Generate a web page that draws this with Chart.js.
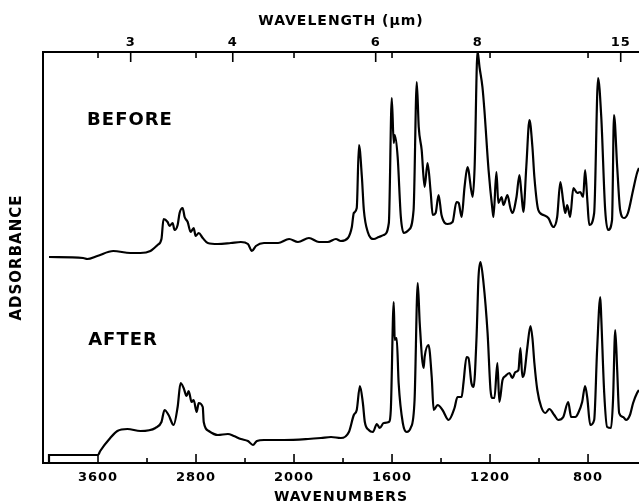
<!DOCTYPE html>
<html>
<head>
<meta charset="utf-8">
<script src="https://cdn.jsdelivr.net/npm/chart.js@4"></script>
<style>
  html, body { margin: 0; padding: 0; background: #fff; }
  canvas { display: block; }
</style>
</head>
<body>
<canvas id="spectrum" width="639" height="504"></canvas>
<script>
// Data
const majorWavenumbers = [3600, 2800, 2000, 1600, 1200, 800];
const minorWavenumbers = [3200, 2400, 1800, 1400, 1000];
const wavelengthTicks = [3, 4, 6, 8, 15]; // micrometres

const beforeWn = [4000, 3721, 3688, 3606, 3475, 3336, 3254, 3172, 3114, 3082,
  3065, 3032, 3016, 2991, 2975, 2950, 2934, 2909, 2893, 2868,
  2844, 2819, 2803, 2778, 2745, 2704, 2622, 2516, 2434, 2376,
  2344, 2311, 2245, 2130, 2040, 1984, 1939, 1898, 1862, 1829,
  1809, 1780, 1764, 1756, 1744, 1735, 1723, 1715, 1699, 1674,
  1654, 1634, 1613, 1601, 1593, 1589, 1577, 1564, 1552, 1532,
  1512, 1499, 1491, 1479, 1467, 1455, 1442, 1434, 1422, 1410,
  1398, 1373, 1353, 1337, 1328, 1316, 1304, 1292, 1288, 1271,
  1263, 1251, 1243, 1231, 1223, 1206, 1190, 1186, 1174, 1166,
  1153, 1145, 1129, 1117, 1109, 1092, 1080, 1072, 1064, 1052,
  1039, 1027, 1019, 1003, 982, 962, 942, 926, 913, 901,
  893, 885, 873, 860, 844, 832, 820, 812, 803, 795,
  775, 759, 746, 730, 718, 702, 694, 681, 669, 653,
  637, 616, 600, 592];
const beforeAbs = [20.6, 20.5, 20.4, 20.7, 21.2, 21.0, 21.0, 21.2, 21.8, 22.4,
  24.4, 24.1, 23.7, 24.0, 23.3, 23.8, 25.0, 25.5, 24.6, 24.1,
  23.1, 23.5, 22.7, 23.0, 22.5, 22.0, 21.9, 22.0, 22.1, 21.9,
  21.2, 21.7, 22.0, 22.0, 22.4, 22.1, 22.5, 22.1, 22.1, 22.4,
  22.2, 22.5, 23.6, 25.0, 25.5, 31.8, 28.6, 25.3, 23.1, 22.4,
  22.6, 22.8, 24.0, 36.5, 32.0, 32.8, 30.6, 24.6, 23.0, 23.3,
  25.3, 38.1, 33.6, 31.3, 27.6, 30.0, 27.0, 24.8, 25.0, 26.8,
  24.8, 23.9, 24.1, 26.1, 26.0, 24.6, 27.6, 29.6, 29.3, 26.6,
  29.5, 41.2, 39.6, 37.6, 35.3, 29.3, 25.3, 24.6, 29.1, 26.0,
  26.6, 25.8, 26.8, 25.5, 25.0, 26.6, 28.8, 27.0, 25.1, 29.6,
  34.3, 31.6, 28.6, 25.3, 24.8, 24.5, 23.6, 24.6, 28.1, 26.1,
  25.0, 25.8, 24.6, 27.5, 27.0, 27.1, 26.6, 29.3, 26.3, 23.8,
  25.0, 38.5, 34.6, 25.3, 23.3, 24.3, 34.8, 29.6, 25.3, 24.5,
  25.0, 27.3, 29.0, 29.5];

const afterWn = [4000, 4000, 3600, 3582, 3500, 3442, 3360, 3254, 3131, 3082,
  3057, 3024, 2983, 2950, 2926, 2901, 2877, 2860, 2836, 2819,
  2795, 2778, 2745, 2737, 2696, 2622, 2540, 2491, 2434, 2376,
  2335, 2303, 2245, 2081, 1943, 1890, 1849, 1809, 1776, 1756,
  1744, 1731, 1719, 1711, 1695, 1678, 1662, 1650, 1634, 1613,
  1605, 1593, 1589, 1581, 1573, 1556, 1540, 1524, 1508, 1495,
  1487, 1471, 1467, 1451, 1438, 1430, 1414, 1394, 1369, 1345,
  1333, 1316, 1308, 1296, 1288, 1276, 1267, 1255, 1247, 1239,
  1227, 1210, 1198, 1190, 1182, 1170, 1162, 1149, 1137, 1121,
  1109, 1096, 1084, 1076, 1068, 1060, 1048, 1035, 1027, 1019,
  1007, 991, 974, 958, 938, 922, 901, 881, 869, 852,
  840, 824, 812, 803, 791, 775, 763, 750, 746, 734,
  722, 706, 698, 689, 681, 673, 657, 645, 629, 616,
  600, 592];
const afterAbs = [0, 0.8, 0.8, 1.2, 2.5, 3.2, 3.4, 3.2, 3.5, 4.1,
  5.3, 4.8, 3.8, 5.6, 8.0, 7.5, 6.7, 7.2, 6.1, 6.3,
  5.1, 6.0, 5.6, 4.1, 3.2, 2.8, 2.9, 2.7, 2.4, 2.2,
  1.8, 2.2, 2.3, 2.3, 2.4, 2.5, 2.6, 2.5, 3.1, 4.8,
  5.3, 7.7, 6.0, 4.1, 3.3, 3.1, 3.9, 3.5, 4.0, 4.1,
  5.3, 16.1, 12.3, 12.5, 8.0, 4.0, 3.1, 3.5, 6.3, 18.0,
  14.0, 9.5, 10.6, 11.8, 8.6, 5.3, 5.8, 5.3, 4.3, 5.5,
  6.6, 6.6, 8.1, 10.6, 10.5, 8.0, 7.6, 12.6, 18.6, 20.1,
  18.1, 13.0, 7.3, 6.5, 6.5, 10.0, 6.1, 8.3, 8.7, 9.0,
  8.5, 9.1, 9.3, 11.5, 8.6, 9.0, 11.5, 13.7, 12.5, 10.0,
  7.3, 5.6, 5.0, 5.4, 4.8, 4.3, 4.6, 6.1, 4.6, 4.6,
  5.0, 6.1, 7.7, 6.5, 3.8, 4.3, 11.3, 16.6, 14.5, 7.0,
  3.6, 3.5, 6.3, 13.3, 9.3, 5.0, 4.6, 4.3, 4.8, 6.0,
  7.0, 7.3];

const WN_LEFT = 4049;
const WN_RIGHT = 592;
const FONT = '"DejaVu Sans", sans-serif';

// the spectrometer chart doubles its scale below 2000 cm-1
const toU = (wn) => (wn >= 2000 ? (4000 - wn) / 2 : 1000 + (2000 - wn));
const fromU = (u) => (u <= 1000 ? 4000 - 2 * u : 2000 - (u - 1000));

class WavenumberScale extends Chart.LinearScale {
  getPixelForValue(value) {
    const u0 = toU(WN_LEFT), u1 = toU(WN_RIGHT);
    return this.getPixelForDecimal((toU(value) - u0) / (u1 - u0));
  }
  getValueForPixel(pixel) {
    const u0 = toU(WN_LEFT), u1 = toU(WN_RIGHT);
    return fromU(u0 + this.getDecimalForPixel(pixel) * (u1 - u0));
  }
}
WavenumberScale.id = "wavenumber";
WavenumberScale.defaults = {};
Chart.register(WavenumberScale);

const spacing = {
  id: "spacing",
  beforeDraw(chart) {
    chart.ctx.letterSpacing = "1px";
  },
};

// inward tick marks and the two trace labels
const frameMarks = {
  id: "frameMarks",
  afterDraw(chart) {
    const { ctx, chartArea: a, scales } = chart;
    ctx.save();
    ctx.strokeStyle = "#000";
    ctx.lineWidth = 1.6;
    const mark = (x, y0, len) => {
      ctx.beginPath();
      ctx.moveTo(x, y0);
      ctx.lineTo(x, y0 + len);
      ctx.stroke();
    };
    majorWavenumbers.forEach((v) => mark(scales.x.getPixelForValue(v), a.bottom, -9));
    minorWavenumbers.forEach((v) => mark(scales.x.getPixelForValue(v), a.bottom, -5));
    wavelengthTicks.forEach((l) => mark(scales.x2.getPixelForValue(10000 / l), a.top, 10));
    majorWavenumbers.forEach((v) => mark(scales.x2.getPixelForValue(v), a.top, 6));

    ctx.fillStyle = "#000";
    ctx.font = "bold 18px " + FONT;
    ctx.letterSpacing = "1px";
    ctx.textAlign = "center";
    ctx.textBaseline = "middle";
    ctx.fillText("BEFORE", a.left + 87, 120);
    ctx.fillText("AFTER", a.left + 80, 340);
    ctx.restore();
  },
};

const axisTitle = (text, size, padding) => ({
  display: true,
  text,
  color: "#000",
  font: { family: FONT, size, weight: "bold", lineHeight: 1 },
  padding,
});

const trace = (label, wn, abs) => ({
  label,
  data: wn.map((w, i) => ({ x: w, y: abs[i] })),
  borderColor: "#000",
  borderWidth: 2.2,
  pointRadius: 0,
  cubicInterpolationMode: "monotone",
  fill: false,
});

new Chart(document.getElementById("spectrum"), {
  type: "line",
  data: {
    datasets: [
      trace("Before", beforeWn, beforeAbs),
      trace("After", afterWn, afterAbs),
    ],
  },
  options: {
    responsive: false,
    animation: false,
    layout: { padding: 0 },
    plugins: { legend: { display: false }, tooltip: { enabled: false } },
    scales: {
      x: {
        type: "wavenumber",
        position: "bottom",
        min: WN_RIGHT,
        max: WN_LEFT,
        afterBuildTicks: (s) => { s.ticks = majorWavenumbers.map((v) => ({ value: v })); },
        afterFit: (s) => { s.height = 41; },
        ticks: {
          autoSkip: false,
          maxRotation: 0,
          padding: 7,
          color: "#000",
          font: { family: FONT, size: 13, weight: "bold" },
          callback: (v) => String(v),
        },
        grid: { display: false, drawTicks: false },
        border: { display: true, color: "#000", width: 2 },
        title: axisTitle("WAVENUMBERS", 14, { top: 0, bottom: 0 }),
      },
      x2: {
        type: "wavenumber",
        position: "top",
        min: WN_RIGHT,
        max: WN_LEFT,
        afterBuildTicks: (s) => { s.ticks = wavelengthTicks.map((l) => ({ value: 10000 / l })); },
        afterFit: (s) => { s.height = 52; },
        ticks: {
          autoSkip: false,
          maxRotation: 0,
          padding: 2,
          color: "#000",
          font: { family: FONT, size: 13, weight: "bold" },
          callback: (v) => String(Math.round(10000 / v)),
        },
        grid: { display: false, drawTicks: false },
        border: { display: true, color: "#000", width: 2 },
        title: axisTitle("WAVELENGTH (µm)", 14, { top: 14, bottom: 0 }),
      },
      y: {
        min: 0,
        max: 41.1,
        afterFit: (s) => { s.width = 43; },
        ticks: { display: false },
        grid: { display: false, drawTicks: false },
        border: { display: true, color: "#000", width: 2 },
        title: axisTitle("ADSORBANCE", 15, { top: 10, bottom: 0 }),
      },
    },
  },
  plugins: [spacing, frameMarks],
});
</script>
</body>
</html>
